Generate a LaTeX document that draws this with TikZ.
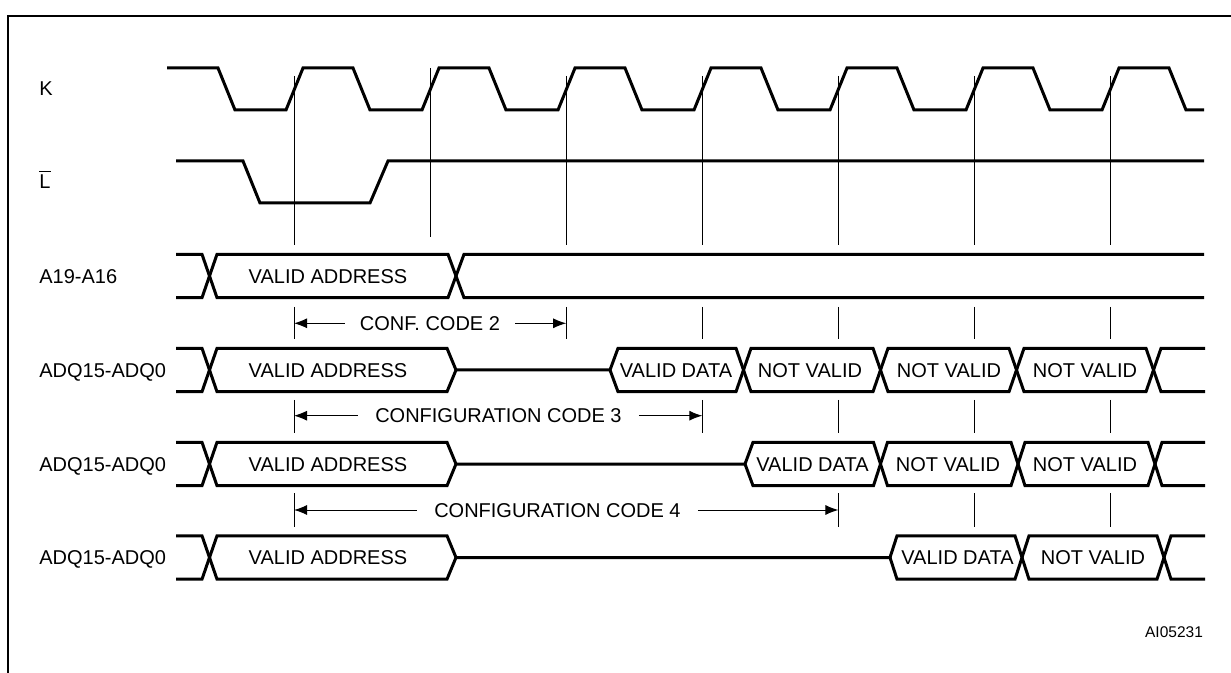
\documentclass[tikz,border=0pt]{standalone}
\usepackage{fontspec}
\setmainfont{Liberation Sans}
\usepackage{tikz}
\usetikzlibrary{arrows.meta}

\tikzset{
  sig/.style={line width=1.5pt, line join=miter},
  tick/.style={line width=0.5pt},
  dim/.style={line width=0.5pt, -{Latex[length=6.5pt,width=5pt]}},
  lbl/.style={font=\fontsize{10}{12}\selectfont, inner sep=0pt, text height=7.2pt, text depth=0pt},
}

\begin{document}
\begin{tikzpicture}[x=0.5pt, y=-0.5pt]
\useasboundingbox (0,0) rectangle (1231,673);
% frame
\draw[line width=1.25pt] (8,673) -- (8,16) -- (1231,16);

% signal names
\node[lbl, anchor=west] (k) at (39,88) {K};
\node[lbl, anchor=west] (l) at (39,181) {$\overline{\mbox{L}}$};
\node[lbl, anchor=west] (a19) at (39,276) {A19-A16};
\node[lbl, anchor=west] (adq1) at (39,370) {ADQ15-ADQ0};
\node[lbl, anchor=west] (adq2) at (39,464) {ADQ15-ADQ0};
\node[lbl, anchor=west] (adq3) at (39,557.5) {ADQ15-ADQ0};

% clock K
\draw[sig] (167,68) -- (218,68) -- (235,110)
  foreach \i in {0,...,6} { -- (286+136*\i,110) -- (303+136*\i,68) -- (353+136*\i,68) -- (370+136*\i,110) }
  -- (1204,110);

% L
\draw[sig] (176,161) -- (243,161) -- (260,203) -- (370,203) -- (388,161) -- (1204,161);

% reference lines
\foreach \x in {294,566.2,702.3,838.4,974.5,1110.6} \draw[tick] (\x,76) -- (\x,245);
\draw[tick] (430,68) -- (430,237);
\foreach \x in {294,566.2,702.3,838.4,974.5,1110.6} \draw[tick] (\x,307) -- (\x,339);
\foreach \x in {294,702.3,838.4,974.5,1110.6} \draw[tick] (\x,400) -- (\x,433);
\foreach \x in {294,838.4,974.5,1110.6} \draw[tick] (\x,493) -- (\x,527);

% A19-A16
\begin{scope}[shift={(0,254.3)}]
  \draw[sig] (176,0) -- (202,0) -- (217,43.4) -- (448,43.4) -- (464,0) -- (1204,0);
  \draw[sig] (176,43.4) -- (202,43.4) -- (217,0) -- (448,0) -- (464,43.4) -- (1204,43.4);
  \node[lbl] (va0) at (328,21.7) {VALID ADDRESS};
\end{scope}

% ADQ, configuration code 2
\begin{scope}[shift={(0,348.3)}]
  \draw[sig] (176,0) -- (202,0) -- (217,43.4) -- (447,43.4) -- (456,21.7) -- (610,21.7) -- (618,0)
    -- (736,0) -- (751,43.4) -- (873,43.4) -- (888,0) -- (1009,0) -- (1024,43.4) -- (1146,43.4) -- (1161,0) -- (1205,0);
  \draw[sig] (176,43.4) -- (202,43.4) -- (217,0) -- (447,0) -- (456,21.7);
  \draw[sig] (610,21.7) -- (618,43.4) -- (736,43.4) -- (751,0) -- (873,0) -- (888,43.4) -- (1009,43.4)
    -- (1024,0) -- (1146,0) -- (1161,43.4) -- (1205,43.4);
  \node[lbl] (va1) at (328,21.7) {VALID ADDRESS};
  \node[lbl] (vd1) at (676,21.7) {VALID DATA};
  \node[lbl] (nv1a) at (810,21.7) {NOT VALID};
  \node[lbl] (nv1b) at (949,21.7) {NOT VALID};
  \node[lbl] (nv1c) at (1085,21.7) {NOT VALID};
\end{scope}

% ADQ, configuration code 3
\begin{scope}[shift={(0,442.3)}]
  \draw[sig] (176,0) -- (202,0) -- (217,43.4) -- (447,43.4) -- (456,21.7) -- (745,21.7) -- (753,0)
    -- (873.5,0) -- (887.5,43.4) -- (1011,43.4) -- (1025,0) -- (1148,0) -- (1162,43.4) -- (1205,43.4);
  \draw[sig] (176,43.4) -- (202,43.4) -- (217,0) -- (447,0) -- (456,21.7);
  \draw[sig] (745,21.7) -- (753,43.4) -- (873.5,43.4) -- (887.5,0) -- (1011,0) -- (1025,43.4)
    -- (1148,43.4) -- (1162,0) -- (1205,0);
  \node[lbl] (va2) at (328,21.7) {VALID ADDRESS};
  \node[lbl] (vd2) at (812.5,21.7) {VALID DATA};
  \node[lbl] (nv2a) at (948,21.7) {NOT VALID};
  \node[lbl] (nv2b) at (1085,21.7) {NOT VALID};
\end{scope}

% ADQ, configuration code 4
\begin{scope}[shift={(0,535.8)}]
  \draw[sig] (176,0) -- (202,0) -- (217,43.4) -- (447,43.4) -- (456,21.7) -- (890,21.7) -- (897,0)
    -- (1015,0) -- (1029,43.4) -- (1157,43.4) -- (1171,0) -- (1205,0);
  \draw[sig] (176,43.4) -- (202,43.4) -- (217,0) -- (447,0) -- (456,21.7);
  \draw[sig] (890,21.7) -- (897,43.4) -- (1015,43.4) -- (1029,0) -- (1157,0) -- (1171,43.4) -- (1205,43.4);
  \node[lbl] (va3) at (328,21.7) {VALID ADDRESS};
  \node[lbl] (vd3) at (957.5,21.7) {VALID DATA};
  \node[lbl] (nv3a) at (1093,21.7) {NOT VALID};
\end{scope}

% latency arrows
\node[lbl, inner xsep=7.5pt] (cc2) at (430,323.3) {CONF. CODE 2};
\coordinate (cc2l) at (294,323.3);
\coordinate (cc2r) at (566.2,323.3);
\draw[dim] (cc2.west) -- (cc2l);
\draw[dim] (cc2.east) -- (cc2r);

\node[lbl, inner xsep=8.5pt] (cc3) at (498.4,415.7) {CONFIGURATION CODE 3};
\coordinate (cc3l) at (294,415.7);
\coordinate (cc3r) at (702.3,415.7);
\draw[dim] (cc3.west) -- (cc3l);
\draw[dim] (cc3.east) -- (cc3r);

\node[lbl, inner xsep=8.5pt] (cc4) at (557.4,510) {CONFIGURATION CODE 4};
\coordinate (cc4l) at (294,510);
\coordinate (cc4r) at (838.4,510);
\draw[dim] (cc4.west) -- (cc4l);
\draw[dim] (cc4.east) -- (cc4r);

\node[font=\fontsize{7.75}{9}\selectfont, inner sep=0pt] (fig) at (1174,632) {AI05231};
\end{tikzpicture}
\end{document}
